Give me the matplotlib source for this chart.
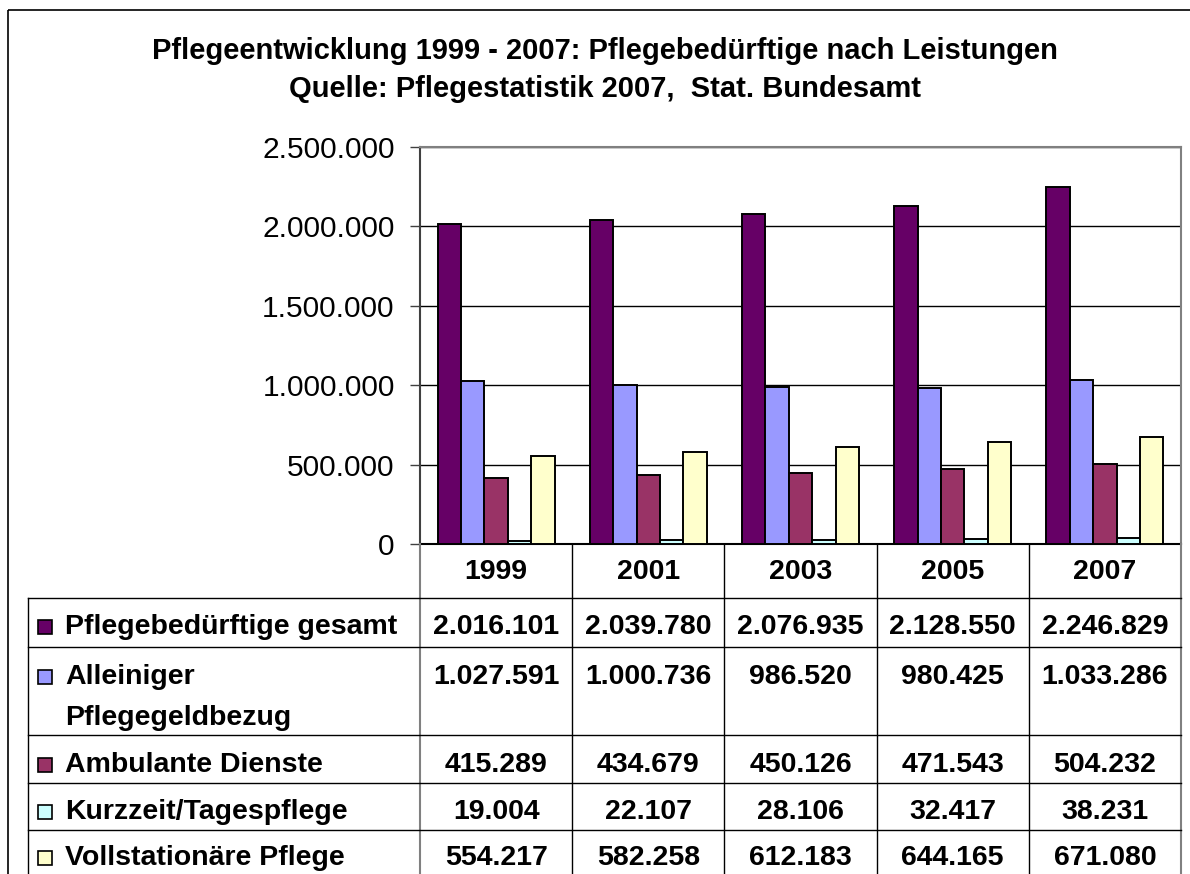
import matplotlib
matplotlib.use("Agg")
import matplotlib.pyplot as plt
from matplotlib.patches import Rectangle

plt.rcParams['font.family'] = ['Liberation Sans', 'DejaVu Sans']

years = ['1999', '2001', '2003', '2005', '2007']
series_names = ['Pflegebedürftige gesamt', 'Alleiniger\nPflegegeldbezug',
                'Ambulante Dienste', 'Kurzzeit/Tagespflege', 'Vollstationäre Pflege']
gesamt = [2016101, 2039780, 2076935, 2128550, 2246829]
pflegegeld = [1027591, 1000736, 986520, 980425, 1033286]
ambulant = [415289, 434679, 450126, 471543, 504232]
kurzzeit = [19004, 22107, 28106, 32417, 38231]
vollstationaer = [554217, 582258, 612183, 644165, 671080]
all_series = [gesamt, pflegegeld, ambulant, kurzzeit, vollstationaer]
colors = ['#660066', '#9999FF', '#993366', '#CCFFFF', '#FFFFCC']
y_ticks = [0, 500000, 1000000, 1500000, 2000000, 2500000]

W, H = 1190, 874


def de(v):
    # deutsche Tausenderpunkte
    return f"{v:,}".replace(",", ".")


fig = plt.figure(figsize=(W / 100, H / 100), dpi=100)

# Diagrammfläche in Pixeln
L, T, R, B = 420, 147, 1181, 544
ax = fig.add_axes([L / W, 1 - B / H, (R - L) / W, (B - T) / H])

bw = 0.154
for k, vals in enumerate(all_series):
    xs = [i + (k - 2) * bw for i in range(len(years))]
    ax.bar(xs, vals, width=bw, color=colors[k], edgecolor='black', linewidth=1.4, zorder=3)

ax.set_xlim(-0.5, len(years) - 0.5)
ax.set_ylim(0, 2500000)
ax.set_yticks(y_ticks)
ax.set_yticklabels([de(v) for v in y_ticks], fontsize=21.5)
ax.set_xticks([])
ax.yaxis.grid(True, color='black', linewidth=1, zorder=0)
ax.tick_params(axis='y', direction='out', length=7.2, width=1, color='#404040', pad=11)
ax.spines['left'].set_color('#404040')
ax.spines['left'].set_linewidth(1.5)
ax.spines['bottom'].set_color('black')
ax.spines['bottom'].set_linewidth(1.5)
for s in ('top', 'right'):
    ax.spines[s].set_color('#808080')
    ax.spines[s].set_linewidth(1.5)

# Rahmen und Titel
ov = fig.add_axes([0, 0, 1, 1], zorder=-1)
ov.set_xlim(0, W)
ov.set_ylim(H, 0)
ov.axis('off')
ov.add_patch(Rectangle((8, 10), W, H, fill=False, edgecolor='black', linewidth=1.2))

ov.text(605, 51, 'Pflegeentwicklung 1999 - 2007: Pflegebedürftige nach Leistungen',
        ha='center', va='center', fontsize=21, fontweight='bold')
ov.text(605, 89, 'Quelle: Pflegestatistik 2007,  Stat. Bundesamt',
        ha='center', va='center', fontsize=21, fontweight='bold')

# Datentabelle
tab = fig.add_axes([0, 0, 1, 1], zorder=5)
tab.set_xlim(0, W)
tab.set_ylim(H, 0)
tab.axis('off')

col_w = (R - L) / len(years)
col_edges = [L + i * col_w for i in range(len(years) + 1)]
row_lines = [598, 647, 735, 783, 830]
gray = '#808080'

for i, x in enumerate(col_edges):
    if i in (0, len(years)):
        tab.plot([x, x], [B, H], color=gray, linewidth=1.5)
    else:
        tab.plot([x, x], [B, H], color='black', linewidth=1)
tab.plot([28, 28], [598, H], color='black', linewidth=1)
for y in row_lines:
    tab.plot([28, R], [y, y], color='black', linewidth=1)

fs = 20.5
for i, yr in enumerate(years):
    tab.text(L + (i + 0.5) * col_w, 572, yr, ha='center', va='center',
             fontsize=fs, fontweight='bold')

text_y = [627, 677, 765, 812, 858]
for k, vals in enumerate(all_series):
    y = text_y[k]
    tab.add_patch(Rectangle((38, y - 7), 14, 14, facecolor=colors[k],
                            edgecolor='black', linewidth=1.2))
    for j, line in enumerate(series_names[k].split('\n')):
        tab.text(65, y + j * 41, line, ha='left', va='center', fontsize=fs,
                 fontweight='bold')
    for i, v in enumerate(vals):
        tab.text(L + (i + 0.5) * col_w, y, de(v), ha='center', va='center',
                 fontsize=fs, fontweight='bold')

fig.savefig('out.png', dpi=100)
